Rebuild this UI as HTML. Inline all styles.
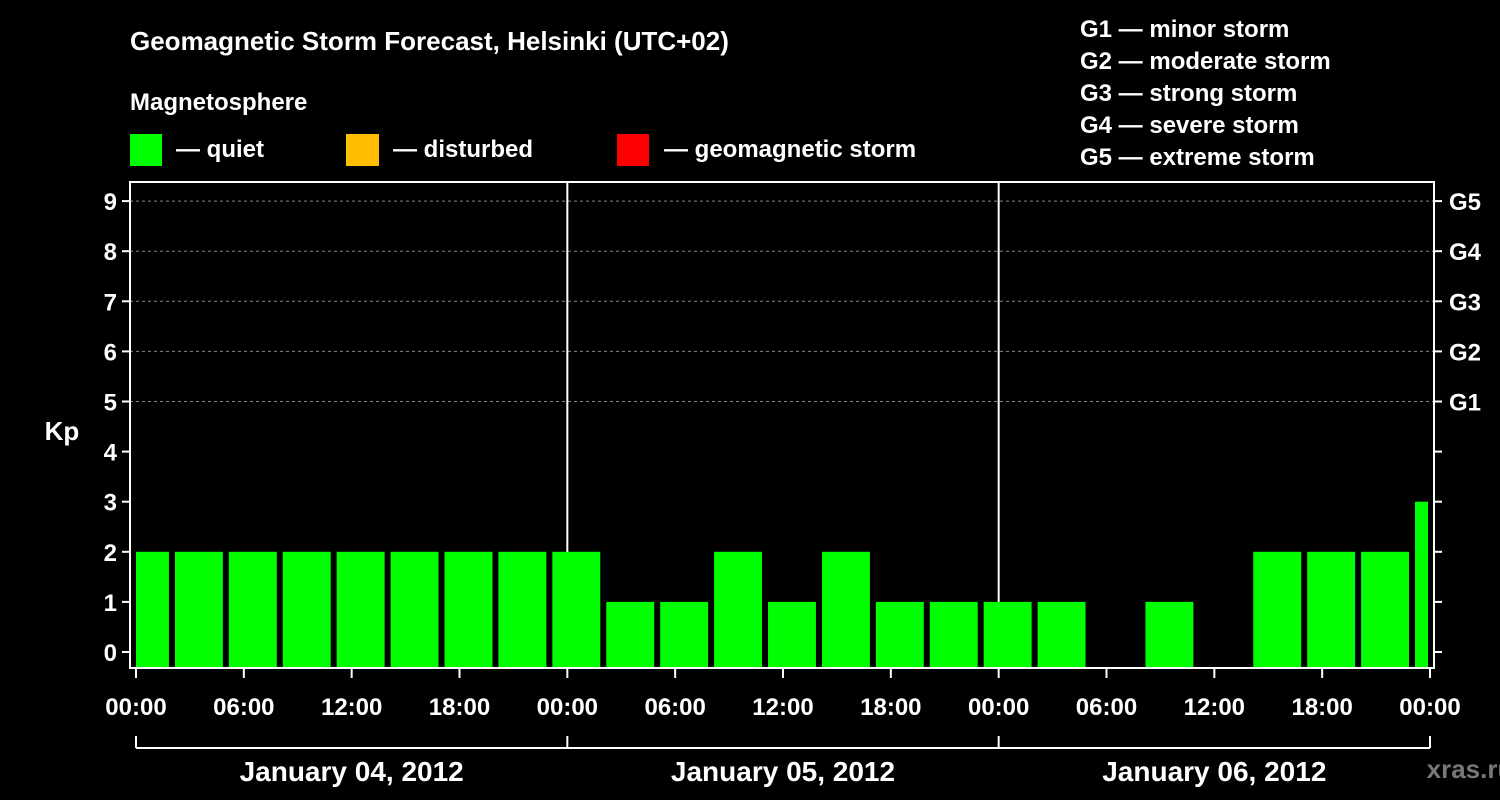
<!DOCTYPE html>
<html><head><meta charset="utf-8"><style>
html,body{margin:0;padding:0;background:#000;}
svg{display:block;font-family:"Liberation Sans",Arial,sans-serif;font-weight:bold;}
</style></head><body>
<svg id="chart" width="1500" height="800" viewBox="0 0 1500 800">
<text x="130" y="50" fill="#fff" font-size="26">Geomagnetic Storm Forecast, Helsinki (UTC+02)</text>
<text x="130" y="110" fill="#fff" font-size="24">Magnetosphere</text>
<g><rect x="130" y="134" width="32" height="32" fill="#00ff00"/><text x="176" y="157" fill="#fff" font-size="24">— quiet</text></g>
<g><rect x="346" y="134" width="33" height="32" fill="#ffbf00"/><text x="393" y="157" fill="#fff" font-size="24">— disturbed</text></g>
<g><rect x="617" y="134" width="32" height="32" fill="#ff0000"/><text x="664" y="157" fill="#fff" font-size="24">— geomagnetic storm</text></g>
<g fill="#fff" font-size="24">
<text x="1080" y="37">G1 — minor storm</text>
<text x="1080" y="69">G2 — moderate storm</text>
<text x="1080" y="101">G3 — strong storm</text>
<text x="1080" y="133">G4 — severe storm</text>
<text x="1080" y="165">G5 — extreme storm</text>
</g>
<text x="62" y="440" fill="#fff" font-size="26" text-anchor="middle">Kp</text>
<text x="1470" y="778" fill="#777" font-size="26" text-anchor="middle">xras.ru</text>
<g id="grid"></g><g id="bars"></g><g id="axes"></g>
<rect x="130" y="182" width="1304" height="486" fill="none" stroke="#fff" stroke-width="2"/>
</svg>
<script>
const kpValues=[2,2,2,2,2,2,2,2,2,1,1,2,1,2,1,1,1,1,0,1,0,2,2,2,3];
const xTickLabels=["00:00","06:00","12:00","18:00","00:00","06:00","12:00","18:00","00:00","06:00","12:00","18:00","00:00"];
const dayLabels=["January 04, 2012","January 05, 2012","January 06, 2012"];
const yTickLabels=["0","1","2","3","4","5","6","7","8","9"];
const gLabels=["G1","G2","G3","G4","G5"];
const NS="http://www.w3.org/2000/svg";
const X0=136,X1=1430,HOURS=72,Y0=652,YU=50.1,BOTTOM=668;
const x=h=>X0+(X1-X0)*h/HOURS;
const y=v=>Y0-YU*v;
function mk(t,a,p){const e=document.createElementNS(NS,t);for(const k in a)e.setAttribute(k,a[k]);p.appendChild(e);return e;}
const grid=document.getElementById('grid'),bars=document.getElementById('bars'),axes=document.getElementById('axes');
for(let v=5;v<=9;v++){const l=mk('line',{x1:130,x2:1434,y1:y(v),y2:y(v),stroke:'#888','stroke-dasharray':'3,3','stroke-width':1},grid);

}
[1,2].forEach(d=>{const l=mk('line',{x1:x(d*24),x2:x(d*24),y1:182,y2:668,stroke:'#fff','stroke-width':2},grid);

});
kpValues.forEach((v,i)=>{if(v<=0)return;
const c=0.5+3*i,hw=1.333;let a=Math.max(x(c-hw),X0),b=Math.min(x(c+hw),X1-2);
const col=v>=5?'#ff0000':(v>=4?'#ffbf00':'#00ff00');
const r=mk('rect',{x:a,y:y(v),width:b-a,height:BOTTOM-y(v),fill:col},bars);

});
yTickLabels.forEach((t,v)=>{mk('line',{x1:122,x2:130,y1:y(v),y2:y(v),stroke:'#fff','stroke-width':2},axes);
mk('line',{x1:1434,x2:1442,y1:y(v),y2:y(v),stroke:'#fff','stroke-width':2},axes);
const e=mk('text',{x:117,y:y(v)+9,fill:'#fff','font-size':24,'text-anchor':'end'},axes);e.textContent=t;

});
gLabels.forEach((t,i)=>{const e=mk('text',{x:1449,y:y(5+i)+9,fill:'#fff','font-size':24},axes);e.textContent=t;

});
xTickLabels.forEach((t,i)=>{const xx=x(i*6);mk('line',{x1:xx,x2:xx,y1:668,y2:678,stroke:'#fff','stroke-width':2},axes);
const e=mk('text',{x:xx,y:715,fill:'#fff','font-size':24,'text-anchor':'middle'},axes);e.textContent=t;

});
mk('line',{x1:X0,x2:X1,y1:748,y2:748,stroke:'#fff','stroke-width':2},axes);
for(let d=0;d<=3;d++)mk('line',{x1:x(d*24),x2:x(d*24),y1:736,y2:748,stroke:'#fff','stroke-width':2},axes);
dayLabels.forEach((t,d)=>{const e=mk('text',{x:x(d*24+12),y:781,fill:'#fff','font-size':28,'text-anchor':'middle'},axes);e.textContent=t;

});
</script>
</body></html>
